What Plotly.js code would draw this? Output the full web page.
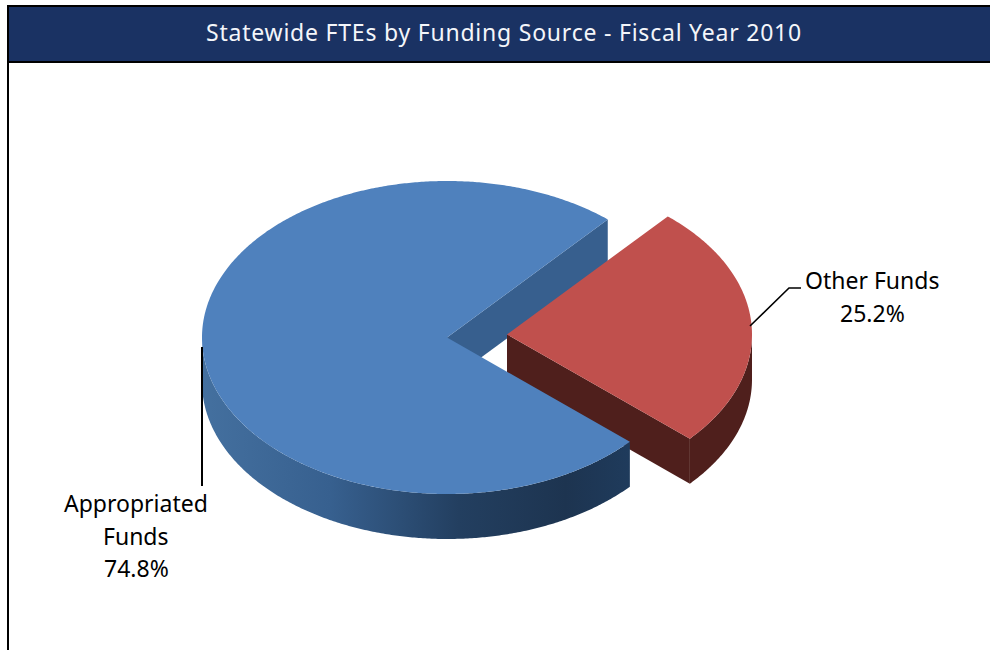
<!DOCTYPE html>
<html>
<head>
<meta charset="utf-8">
<script src="https://cdn.plot.ly/plotly-3.0.1.min.js"></script>
<style>html,body{margin:0;padding:0;background:#fff}#chart{width:990px;height:650px}#chart .gtitle{letter-spacing:0.78px}</style>
</head>
<body>
<div id="chart"></div>
<script>
// Data
const chartTitle = "Statewide FTEs by Funding Source - Fiscal Year 2010";
const categories = ["Other Funds", "Appropriated Funds"];
const categoryLines = [["Other Funds"], ["Appropriated", "Funds"]];
const shares = [25.2, 74.8];

// Projection of the tilted pie onto the page
const cx = 447, cy = 337.5, rx = 245, ry = 156.5, depth = 45;
const startDeg = 49;                 // top edge of the first slice, anticlockwise from east
const pull = {x: 60, y: -3};         // exploded slice offset

const sweep = shares[0] / 100 * 360;
const endDeg = startDeg - sweep;
const rad = d => d * Math.PI / 180;

function pointAt(deg, ox, oy) {
  const a = rad(deg);
  return [cx + ox + rx * Math.cos(a), cy + oy - ry * Math.sin(a)];
}
function arc(from, to, ox, oy) {
  const n = Math.ceil(Math.abs(to - from) * 2), p = [];
  for (let i = 0; i <= n; i++) p.push(pointAt(from + (to - from) * i / n, ox, oy));
  return p;
}
function poly(points, color, gradient) {
  const closed = points.concat([points[0]]);
  const t = {
    type: "scatter", mode: "none", fill: "toself", fillcolor: color,
    x: closed.map(p => p[0]), y: closed.map(p => p[1]),
    hoverinfo: "skip", showlegend: false
  };
  if (gradient) t.fillgradient = {type: "horizontal", colorscale: gradient};
  return t;
}
const drop = pts => pts.map(p => [p[0], p[1] + depth]);

const blueTop = "#4f81bd", redTop = "#c0504d", blueInner = "#375f8e", redSide = "#4f1f1c";
const blueGradient = [[0, "#44709f"], [0.3, "#37608f"], [0.6, "#233f60"], [0.85, "#1d3450"], [1, "#1f3b5c"]];

const apexB = [cx, cy], apexR = [cx + pull.x, cy + pull.y];

// Blue: inner wall on the upper cut
const bStart = pointAt(startDeg, 0, 0);
const blueInnerWall = poly([apexB, bStart].concat(drop([bStart, apexB])), blueInner);

// Red: inner wall, outer wall, top face
const rEnd = pointAt(endDeg, pull.x, pull.y);
const redInnerWall = poly([apexR, rEnd].concat(drop([rEnd, apexR])), redSide);
const redOuterArc = arc(0, endDeg, pull.x, pull.y);
const redOuterWall = poly(redOuterArc.concat(drop(redOuterArc).reverse()), redSide);
const redFace = poly([apexR].concat(arc(startDeg, endDeg, pull.x, pull.y)), redTop);

// Blue: outer wall, top face
const blueOuterArc = arc(180, 360 + endDeg, 0, 0);
const blueOuterWall = poly(blueOuterArc.concat(drop(blueOuterArc).reverse()), "#37608f", blueGradient);
const blueFace = poly([apexB].concat(arc(startDeg, 360 + endDeg, 0, 0)), blueTop);

const traces = [blueInnerWall, redInnerWall, redOuterWall, redFace, blueOuterWall, blueFace];

const ink = "#000000";
const labelFont = {family: "'Noto Sans', 'Open Sans', sans-serif", size: 23, color: ink};

function labelBlock(lines, share, x, yStart) {
  return lines.concat([share.toFixed(1) + "%"]).map((line, i) => ({
    xref: "x", yref: "y", x: x, y: yStart + i * 32.5, text: line, showarrow: false,
    font: labelFont, xanchor: "center", yanchor: "middle"
  }));
}

const layout = {
  width: 990, height: 650,
  margin: {l: 0, r: 0, t: 0, b: 0},
  paper_bgcolor: "#ffffff", plot_bgcolor: "#ffffff",
  showlegend: false,
  title: {
    text: chartTitle,
    font: {family: "'Noto Sans', 'Open Sans', sans-serif", size: 23, color: "#f4f6fa"},
    x: 504 / 990, xanchor: "center", xref: "paper",
    y: 1 - 33 / 650, yanchor: "middle", yref: "paper"
  },
  xaxis: {range: [0, 990], visible: false, fixedrange: true},
  yaxis: {range: [650, 0], visible: false, fixedrange: true},
  shapes: [
    {type: "rect", xref: "x", yref: "y", x0: 7, x1: 990, y0: 6, y1: 62, fillcolor: "#1a3263", line: {width: 0}, layer: "below"},
    {type: "line", xref: "x", yref: "y", x0: 7, x1: 990, y0: 6, y1: 6, line: {color: ink, width: 2}},
    {type: "line", xref: "x", yref: "y", x0: 7, x1: 990, y0: 62, y1: 62, line: {color: ink, width: 2}},
    {type: "line", xref: "x", yref: "y", x0: 8, x1: 8, y0: 5, y1: 650, line: {color: ink, width: 2}},
    {type: "line", xref: "x", yref: "y", x0: 202, x1: 202, y0: 347, y1: 486, line: {color: ink, width: 2}},
    {type: "path", xref: "x", yref: "y", path: "M750,326 L789,288 L801,288", line: {color: ink, width: 1.6}}
  ],
  annotations: labelBlock(categoryLines[0], shares[0], 872, 280)
    .concat(labelBlock(categoryLines[1], shares[1], 136, 503)),
  hovermode: false
};

Plotly.newPlot("chart", traces, layout, {displayModeBar: false, staticPlot: true});
</script>
</body>
</html>
